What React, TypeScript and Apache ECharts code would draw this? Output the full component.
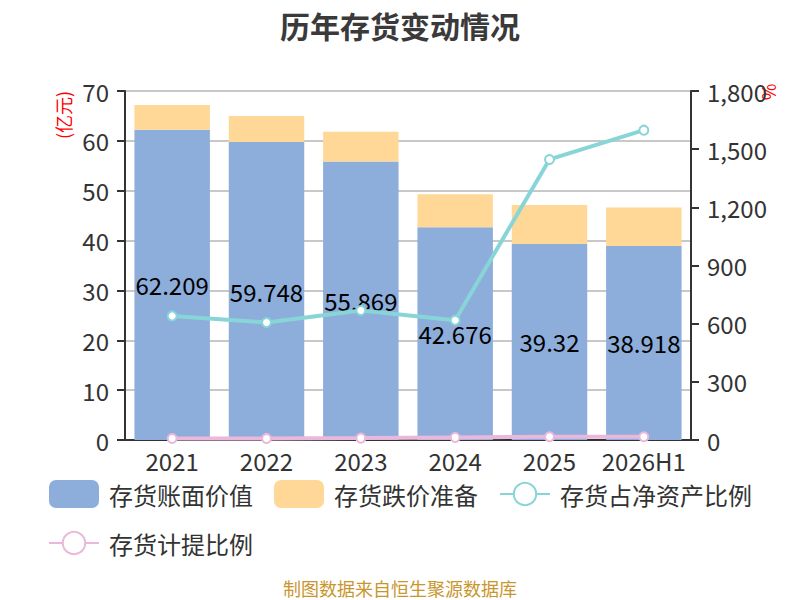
import React, { useEffect, useRef } from "react";
import * as echarts from "echarts";

const categories = ["2021", "2022", "2023", "2024", "2025", "2026H1"];
const bookValue = [62.209, 59.748, 55.869, 42.676, 39.32, 38.918];
const impairment = [5.0, 5.25, 5.98, 6.6, 7.8, 7.7];
const netAssetRatio = [640, 606, 668, 618, 1447, 1598];
const provisionRatio = [7.4, 8.1, 9.7, 13.4, 16.6, 16.5];

const seriesNames = ["存货账面价值", "存货跌价准备", "存货占净资产比例", "存货计提比例"];
const colors = ["#8DADDB", "#FFD898", "#88D5D8", "#E9B8DA"];
const FONT = "Noto Sans CJK SC";

export default function App() {
  const ref = useRef<HTMLDivElement>(null);
  useEffect(() => {
    document.body.style.margin = "0";
    if (!ref.current) return;
    const chart = echarts.init(ref.current, null, { renderer: "svg" });
    chart.setOption({
      animation: false,
      textStyle: { fontFamily: FONT },
      title: {
        text: "历年存货变动情况",
        left: "center",
        top: 5,
        textStyle: { fontSize: 30, fontWeight: "bold", color: "#3a3a3a", fontFamily: FONT },
      },
      grid: { left: 125, right: 109, top: 91, bottom: 160 },
      legend: {
        left: "center",
        top: 475,
        itemWidth: 50,
        itemHeight: 28,
        itemGap: 21,
        textStyle: { fontSize: 24, color: "#333", fontFamily: FONT, padding: [0, 0, 0, 5] },
        data: seriesNames,
      },
      graphic: [
        {
          type: "text",
          x: 63,
          y: 115,
          rotation: Math.PI / 2,
          style: { text: "(亿元)", fill: "#ff0000", fontSize: 18, fontFamily: FONT, align: "center", verticalAlign: "middle" },
        },
        {
          type: "text",
          x: 768,
          y: 92,
          rotation: Math.PI / 2,
          style: { text: "%", fill: "#ff0000", fontSize: 18, fontFamily: FONT, align: "center", verticalAlign: "middle" },
        },
        {
          type: "text",
          x: 400,
          y: 588,
          style: { text: "制图数据来自恒生聚源数据库", fill: "#C9962E", fontSize: 18, fontFamily: FONT, align: "center", verticalAlign: "middle" },
        },
      ],
      xAxis: {
        type: "category",
        data: categories,
        axisLine: { lineStyle: { color: "#333", width: 2 } },
        axisTick: { length: 8, lineStyle: { color: "#333", width: 2 } },
        axisLabel: { fontSize: 24, color: "#333", margin: 8, interval: 0, fontFamily: FONT },
      },
      yAxis: [
        {
          type: "value",
          min: 0,
          max: 70,
          interval: 10,
          axisLine: { show: true, lineStyle: { color: "#333", width: 2 } },
          axisTick: { show: true, length: 8, lineStyle: { color: "#333", width: 2 } },
          axisLabel: { fontSize: 24, color: "#333", margin: 16, fontFamily: FONT },
          splitLine: { lineStyle: { color: "#c8c8c8", width: 2 } },
        },
        {
          type: "value",
          min: 0,
          max: 1800,
          interval: 300,
          axisLine: { show: true, lineStyle: { color: "#333", width: 2 } },
          axisTick: { show: true, length: 8, lineStyle: { color: "#333", width: 2 } },
          axisLabel: { fontSize: 24, color: "#333", margin: 16, fontFamily: FONT },
          splitLine: { show: false },
        },
      ],
      series: [
        {
          name: seriesNames[0],
          type: "bar",
          stack: "inv",
          barWidth: "80%",
          data: bookValue,
          itemStyle: { color: colors[0] },
          label: { show: true, position: "inside", fontSize: 24, color: "#000", fontFamily: FONT },
        },
        {
          name: seriesNames[1],
          type: "bar",
          stack: "inv",
          data: impairment,
          itemStyle: { color: colors[1] },
        },
        {
          name: seriesNames[2],
          type: "line",
          yAxisIndex: 1,
          data: netAssetRatio,
          symbol: "emptyCircle",
          symbolSize: 9,
          lineStyle: { color: colors[2], width: 4 },
          itemStyle: { color: colors[2], borderWidth: 2 },
          z: 5,
        },
        {
          name: seriesNames[3],
          type: "line",
          yAxisIndex: 1,
          data: provisionRatio,
          symbol: "emptyCircle",
          symbolSize: 9,
          lineStyle: { color: colors[3], width: 4 },
          itemStyle: { color: colors[3], borderWidth: 2 },
          z: 5,
        },
      ],
    });
    return () => chart.dispose();
  }, []);
  return <div ref={ref} style={{ width: 800, height: 600 }} />;
}
